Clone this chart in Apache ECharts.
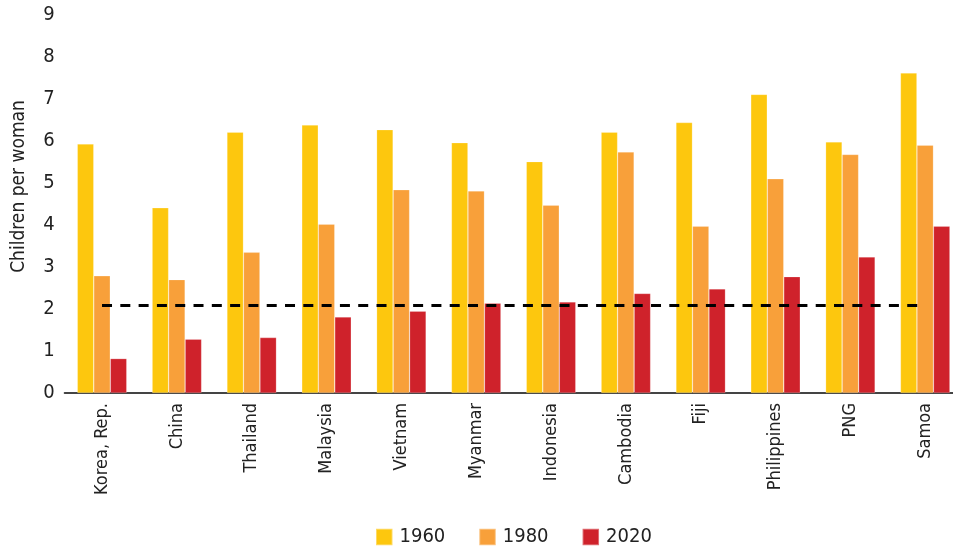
<!DOCTYPE html>
<html>
<head>
<meta charset="utf-8">
<script src="https://cdn.jsdelivr.net/npm/echarts@6/dist/echarts.min.js"></script>
<style>
html,body{margin:0;padding:0;background:#fff;overflow:hidden;}
#c{width:963px;height:550px;}
</style>
</head>
<body>
<div id="c"></div>
<script>
const categories = ['Korea, Rep.', 'China', 'Thailand', 'Malaysia', 'Vietnam', 'Myanmar', 'Indonesia', 'Cambodia', 'Fiji', 'Philippines', 'PNG', 'Samoa'];
const years = ['1960', '1980', '2020'];
const v1960 = [5.93, 4.41, 6.21, 6.38, 6.27, 5.96, 5.51, 6.21, 6.44, 7.11, 5.98, 7.62];
const v1980 = [2.79, 2.70, 3.35, 4.02, 4.84, 4.81, 4.47, 5.74, 3.97, 5.10, 5.68, 5.90];
const v2020 = [0.82, 1.28, 1.32, 1.81, 1.95, 2.14, 2.17, 2.37, 2.48, 2.77, 3.24, 3.97];
const replacementRate = 2.1;
const yTicks = [0, 1, 2, 3, 4, 5, 6, 7, 8, 9];

const FONT = '"DejaVu Sans Condensed", "DejaVu Sans", sans-serif';
const colors = ['#FDC70E', '#F8A03A', '#CF222B'];

const chart = echarts.init(document.getElementById('c'), null, {renderer: 'canvas'});
const seriesData = [v1960, v1980, v2020];
const series = years.map((y, i) => ({
  name: y,
  type: 'bar',
  data: seriesData[i],
  barWidth: 16.5,
  barGap: '0%',
  itemStyle: {color: colors[i], borderColor: 'rgba(255,255,255,0.35)', borderWidth: 0.6},
  emphasis: {disabled: true},
  z: 2
}));
series[1].markLine = {
  symbol: 'none',
  silent: true,
  label: {show: false},
  lineStyle: {color: '#000', type: [10, 8.3], width: 2.8},
  data: [[{coord: [0, replacementRate]}, {coord: [categories.length - 1, replacementRate]}]],
  z: 5
};

chart.setOption({
  animation: false,
  textStyle: {fontFamily: FONT},
  grid: {left: 64.6, width: 898, top: 15, bottom: 157, containLabel: false},
  legend: {
    data: years,
    top: 527,
    left: 375,
    padding: 0,
    itemWidth: 16.5,
    itemHeight: 16.5,
    itemGap: 33,
    icon: 'rect',
    textStyle: {fontFamily: FONT, fontSize: 20, color: '#222', padding: [0, 0, 0, 2]}
  },
  xAxis: {
    type: 'category',
    data: categories,
    axisLine: {lineStyle: {color: '#444', width: 1.8}},
    axisTick: {show: false},
    axisLabel: {rotate: 90, margin: 10, fontSize: 18, color: '#222', fontFamily: FONT, interval: 0, padding: [0, 0, 7, 0]}
  },
  yAxis: {
    type: 'value',
    min: yTicks[0],
    max: yTicks[yTicks.length - 1],
    interval: 1,
    name: 'Children per woman',
    nameLocation: 'middle',
    nameRotate: 90,
    nameGap: 36,
    nameTextStyle: {fontSize: 19, color: '#222', fontFamily: FONT, padding: [0, 0, 0, 35]},
    axisLine: {show: false},
    axisTick: {show: false},
    splitLine: {show: false},
    axisLabel: {fontSize: 20, color: '#222', margin: 10, fontFamily: FONT}
  },
  series: series
});
</script>
</body>
</html>
